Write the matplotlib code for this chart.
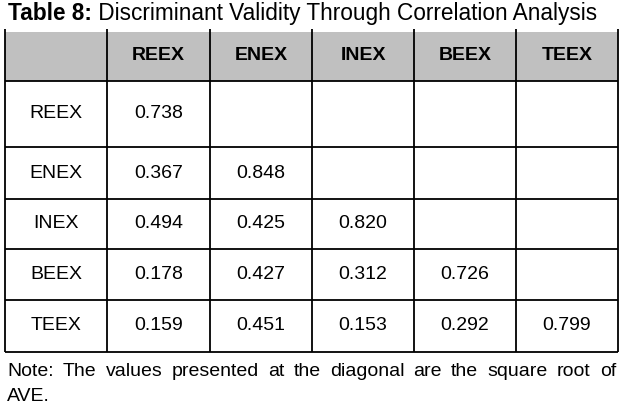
import matplotlib
matplotlib.use("Agg")
import matplotlib.pyplot as plt
from matplotlib.patches import Rectangle

plt.rcParams['font.family'] = ['Liberation Sans', 'DejaVu Sans']

# table content
constructs = ["REEX", "ENEX", "INEX", "BEEX", "TEEX"]
reex = ["0.738", "0.367", "0.494", "0.178", "0.159"]
enex = ["", "0.848", "0.425", "0.427", "0.451"]
inex = ["", "", "0.820", "0.312", "0.153"]
beex = ["", "", "", "0.726", "0.292"]
teex = ["", "", "", "", "0.799"]
columns = [reex, enex, inex, beex, teex]

title_bold = "Table 8:"
title_rest = " Discriminant Validity Through Correlation Analysis"
note_line1 = "Note: The values presented at the diagonal are the square root of"
note_line2 = "AVE."

W, H = 623, 409
fig = plt.figure(figsize=(W / 100, H / 100), dpi=100)
ax = fig.add_axes([0, 0, 1, 1])
ax.set_xlim(0, W)
ax.set_ylim(H, 0)
ax.axis("off")

x_edges = [5, 107, 210, 312, 414, 516, 618]
y_edges = [30, 81, 147, 199, 249, 300, 352]
fs = 14

# header background
ax.add_patch(Rectangle((x_edges[0], y_edges[0] + 2), x_edges[-1] - x_edges[0],
                       y_edges[1] - y_edges[0] - 2, color="#c0c0c0", lw=0))

# grid lines
for x in x_edges:
    ax.plot([x, x], [y_edges[0] - 1, y_edges[-1]], color="black", lw=1.3,
            solid_capstyle="butt")
for y in y_edges[1:]:
    ax.plot([x_edges[0], x_edges[-1]], [y, y], color="black", lw=1.3,
            solid_capstyle="butt")

def cx(i):
    return (x_edges[i] + x_edges[i + 1]) / 2

def cy(j):
    return (y_edges[j] + y_edges[j + 1]) / 2

# header labels
for i, name in enumerate(constructs):
    ax.text(cx(i + 1), cy(0), name, ha="center", va="center",
            fontsize=fs, fontweight="bold")

# rows
for j, name in enumerate(constructs):
    ax.text(cx(0), cy(j + 1), name, ha="center", va="center", fontsize=fs)
    for i, col in enumerate(columns):
        if col[j]:
            ax.text(cx(i + 1), cy(j + 1), col[j], ha="center", va="center",
                    fontsize=fs)

# title
t = ax.text(8, 20, title_bold, ha="left", va="baseline", fontsize=16.3,
            fontweight="bold")
fig.canvas.draw()
r = fig.canvas.get_renderer()
bb = t.get_window_extent(r)
ax.text(8 + bb.width, 20, title_rest, ha="left", va="baseline", fontsize=16.3)

# note, justified first line
words = note_line1.split()
left, right = 7, 616
widths = []
for w in words:
    tmp = ax.text(0, 0, w, fontsize=14)
    widths.append(tmp.get_window_extent(r).width)
    tmp.remove()
gap = (right - left - sum(widths)) / (len(words) - 1)
x = left
for w, wd in zip(words, widths):
    ax.text(x, 376, w, ha="left", va="baseline", fontsize=14)
    x += wd + gap
ax.text(left, 401, note_line2, ha="left", va="baseline", fontsize=14)

fig.savefig("out.png", dpi=100)
